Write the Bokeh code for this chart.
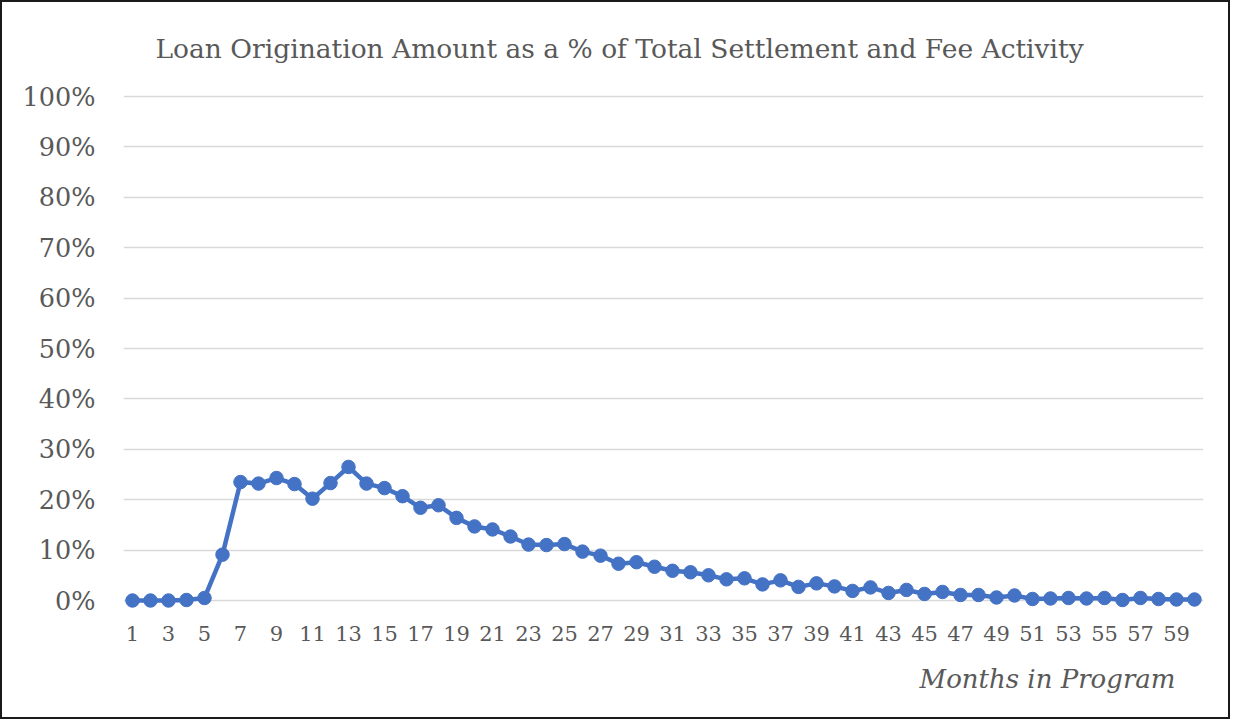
from bokeh.plotting import figure
from bokeh.models import Range1d, FixedTicker, PrintfTickFormatter, Title
from bokeh.embed import file_html
from bokeh.resources import INLINE

months = list(range(1, 61))
pct = [0.0, 0.0, 0.0, 0.1, 0.5, 9.1, 23.5, 23.2, 24.3, 23.1,
       20.2, 23.3, 26.5, 23.2, 22.3, 20.7, 18.4, 18.9, 16.4, 14.7,
       14.1, 12.7, 11.1, 11.0, 11.2, 9.7, 8.9, 7.3, 7.6, 6.7,
       5.9, 5.6, 5.0, 4.2, 4.4, 3.2, 4.0, 2.7, 3.4, 2.8,
       1.9, 2.6, 1.5, 2.1, 1.3, 1.7, 1.1, 1.1, 0.6, 1.0,
       0.3, 0.4, 0.5, 0.4, 0.5, 0.1, 0.5, 0.3, 0.2, 0.2]
x_ticks = list(range(1, 60, 2))
y_ticks = list(range(0, 101, 10))

title_text = "Loan Origination Amount as a % of Total Settlement and Fee Activity"
x_label = "Months in Program"

FONT = "DejaVu Serif"
GREY = "#595959"
BLUE = "#4472C4"

p = figure(output_backend="svg", toolbar_location=None,
           frame_width=1080, frame_height=524,
           x_range=Range1d(0.5, 60.5), y_range=Range1d(-3.57, 100.4),
           min_border_left=121, min_border_right=25,
           min_border_top=92, min_border_bottom=99,
           background_fill_color="white", border_fill_color="white")
p.styles = {"border": "2px solid #1a1a1a"}
p.outline_line_color = None

t = Title(text=title_text, align="left", offset=32, standoff=58,
          vertical_align="top",
          text_font=FONT, text_font_size="26.5px", text_font_style="normal",
          text_color=GREY)
p.add_layout(t, "above")

xl = Title(text=x_label, align="right", offset=28, standoff=37,
           text_font=FONT, text_font_size="26px", text_font_style="italic",
           text_color=GREY)
p.add_layout(xl, "below")

p.line(months, pct, line_color=BLUE, line_width=4.5)
p.scatter(months, pct, size=13.5, fill_color=BLUE, line_color=BLUE)

p.xaxis.ticker = FixedTicker(ticks=x_ticks)
p.yaxis.ticker = FixedTicker(ticks=y_ticks)
p.yaxis.formatter = PrintfTickFormatter(format="%d%%")

for ax in (p.xaxis, p.yaxis):
    ax.axis_line_color = None
    ax.major_tick_line_color = None
    ax.minor_tick_line_color = None
    ax.major_label_text_font = FONT
    ax.major_label_text_color = GREY

p.yaxis.major_label_text_font_size = "25.5px"
p.yaxis.major_label_standoff = 22
p.xaxis.major_label_text_font_size = "21px"
p.xaxis.major_label_standoff = 1

p.xgrid.grid_line_color = None
p.ygrid.grid_line_color = "#D9D9D9"
p.ygrid.grid_line_width = 1.5

open("out.html", "w").write(file_html(p, INLINE))
